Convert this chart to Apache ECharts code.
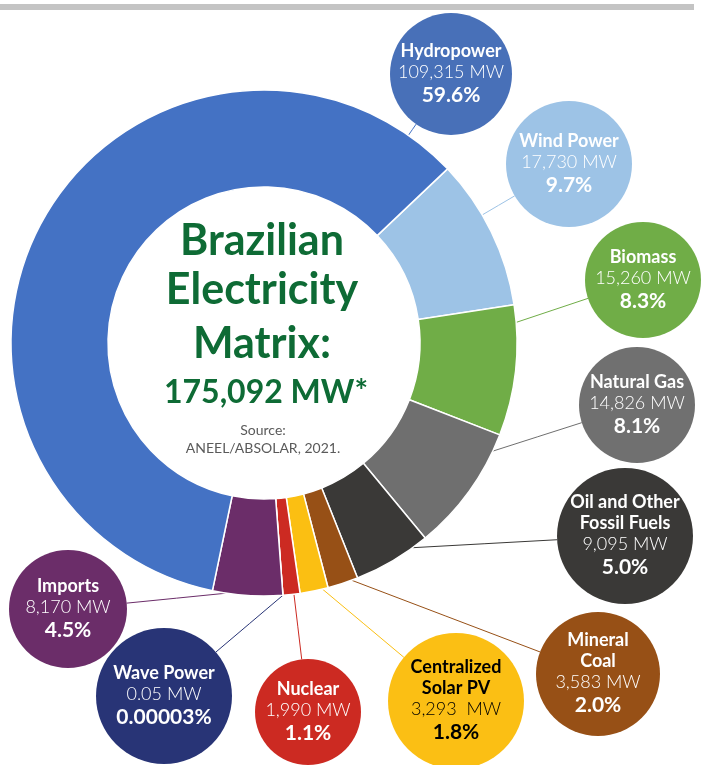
<!DOCTYPE html>
<html><head><meta charset="utf-8">
<script src="https://cdn.jsdelivr.net/npm/echarts@6/dist/echarts.min.js"></script>
<style>html,body{margin:0;padding:0;background:#fff}#c{width:701px;height:765px}</style>
</head><body><div id="c"></div>
<script>
// ---- data ----
const categories = ['Wind Power','Biomass','Natural Gas','Oil and Other Fossil Fuels','Mineral Coal','Centralized Solar PV','Nuclear','Wave Power','Imports','Hydropower'];
const nameLines = [['Wind Power'],['Biomass'],['Natural Gas'],['Oil and Other','Fossil Fuels'],['Mineral','Coal'],['Centralized','Solar PV'],['Nuclear'],['Wave Power'],['Imports'],['Hydropower']];
const valuesMW = [17730,15260,14826,9095,3583,3293,1990,0.05,8170,109315];
const valueLabels = ['17,730 MW','15,260 MW','14,826 MW','9,095 MW','3,583 MW','3,293  MW','1,990 MW','0.05 MW','8,170 MW','109,315 MW'];
const percentLabels = ['9.7%','8.3%','8.1%','5.0%','2.0%','1.8%','1.1%','0.00003%','4.5%','59.6%'];
const titleLines = ['Brazilian','Electricity','Matrix:'];
const totalLabel = '175,092 MW*';
const sourceLines = ['Source:','ANEEL/ABSOLAR, 2021.'];

// ---- style / layout ----
const sectorColors = ['#9DC3E6','#70AD47','#6F6F6F','#3A3937','#975016','#FBBF12','#CC2A22','#283476','#6B2D69','#4472C4'];
const circleColors = ['#9DC3E6','#70AD47','#707070','#3A3937','#975016','#FBBF14','#CC2A22','#283476','#6B2D69','#4870B8'];
const textDark = [false,false,false,false,false,true,false,false,false,false];
// label circle centers & radii (layout)
const circleLayout = [
  [569,164,63],[643,280,58],[637,405,58],[625,536,68],[598,674,62],
  [456,701,68],[308,712,53],[164,696,68],[68,609,59],[451,74,61]
];
const CX = 264, CY = 343, R_IN = 156, R_OUT = 253;
const START_CW = 46.5; // degrees clockwise from 12 o'clock
const LH_N = 21, LH_V = 21, LH_P = 25;

const total = valuesMW.reduce((a,b)=>a+b,0);
const sectorRange = [];
let acc = START_CW;
valuesMW.forEach(v => { const w = v/total*360; sectorRange.push([acc, acc+w]); acc += w; });

function circleCenterAngle(i){
  const c = circleLayout[i];
  return Math.atan2(c[0]-CX, -(c[1]-CY)) * 180/Math.PI;
}
function anchorAngle(i){
  const [s,e] = sectorRange[i];
  let a = circleCenterAngle(i);
  const mid = (s+e)/2;
  while (a < mid-180) a += 360;
  while (a > mid+180) a -= 360;
  const inset = Math.min(4, (e-s)*0.2);
  return Math.max(s+inset, Math.min(e-inset, a));
}

const data = categories.map((name,i) => {
  const c = circleLayout[i];
  const D = 2*c[2];
  const H = nameLines[i].length*LH_N + LH_V + LH_P;
  const pad = Math.max(0,(D-H)/2);
  return {
    name: name,
    value: valuesMW[i],
    itemStyle: {color: sectorColors[i]},
    labelLine: {lineStyle: {color: sectorColors[i], width: 1}},
    label: {
      width: D,
      padding: [pad,0,pad,0],
      backgroundColor: circleColors[i],
      borderRadius: c[2],
      formatter: function(){
        const k = textDark[i] ? 'k' : '';
        return nameLines[i].map(s => '{n'+k+'|'+s+'}').join('\n') +
          '\n{v'+k+'|'+valueLabels[i]+'}\n{p'+k+'|'+percentLabels[i]+'}';
      }
    }
  };
});

const rich = {};
[['',"#ffffff"],['k','#000000']].forEach(([k,col]) => {
  rich['n'+k] = {fontFamily:'Lato', fontWeight:'bold', fontSize:18, lineHeight:LH_N, color:col, align:'center'};
  rich['v'+k] = {fontFamily:'Lato', fontWeight:300, fontSize:18, lineHeight:LH_V, color:col, align:'center'};
  rich['p'+k] = {fontFamily:'Lato', fontWeight:'bold', fontSize:21, lineHeight:LH_P, color:col, align:'center'};
});

const green = '#0E6B35';
const graphics = [
  {type:'rect', shape:{x:0,y:4,width:694,height:6}, style:{fill:'#C4C4C4'}, silent:true}
];
const titleY = [241, 290, 344];
titleLines.forEach((t,i) => graphics.push({type:'text', x:262, y:titleY[i], silent:true,
  style:{text:t, fontFamily:'Lato', fontWeight:'bold', fontSize:43, fill:green, align:'center', verticalAlign:'middle'}}));
graphics.push({type:'text', x:266, y:393, silent:true,
  style:{text:totalLabel, fontFamily:'Lato', fontWeight:'bold', fontSize:32, fill:green, align:'center', verticalAlign:'middle'}});
const srcY = [430, 448];
sourceLines.forEach((t,i) => graphics.push({type:'text', x:263, y:srcY[i], silent:true,
  style:{text:t, fontFamily:'Lato', fontSize:14, fill:'#5A5A5A', align:'center', verticalAlign:'middle'}}));

const chart = echarts.init(document.getElementById('c'), null, {renderer:'canvas'});
chart.setOption({
  animation: false,
  backgroundColor: '#ffffff',
  graphic: graphics,
  series: [{
    type: 'pie',
    center: [CX, CY],
    radius: [R_IN, R_OUT],
    startAngle: 90 - START_CW,
    clockwise: true,
    avoidLabelOverlap: false,
    silent: true,
    itemStyle: {borderColor:'#ffffff', borderWidth:1.5},
    label: {show:true, position:'outside', overflow:'none', rich: rich},
    labelLine: {show:true, length:10, length2:10, smooth:false},
    labelLayout: function(params){
      const i = params.dataIndex;
      const c = circleLayout[i];
      const a = anchorAngle(i) * Math.PI/180;
      const sx = CX + R_OUT*Math.sin(a), sy = CY - R_OUT*Math.cos(a);
      const dx = c[0]-sx, dy = c[1]-sy, d = Math.hypot(dx,dy);
      const ex = c[0] - dx/d*c[2], ey = c[1] - dy/d*c[2];
      return {x:c[0], y:c[1], align:'center', verticalAlign:'middle',
        labelLinePoints: [[sx,sy],[(sx+ex)/2,(sy+ey)/2],[ex,ey]]};
    },
    data: data
  }]
});
</script></body></html>
